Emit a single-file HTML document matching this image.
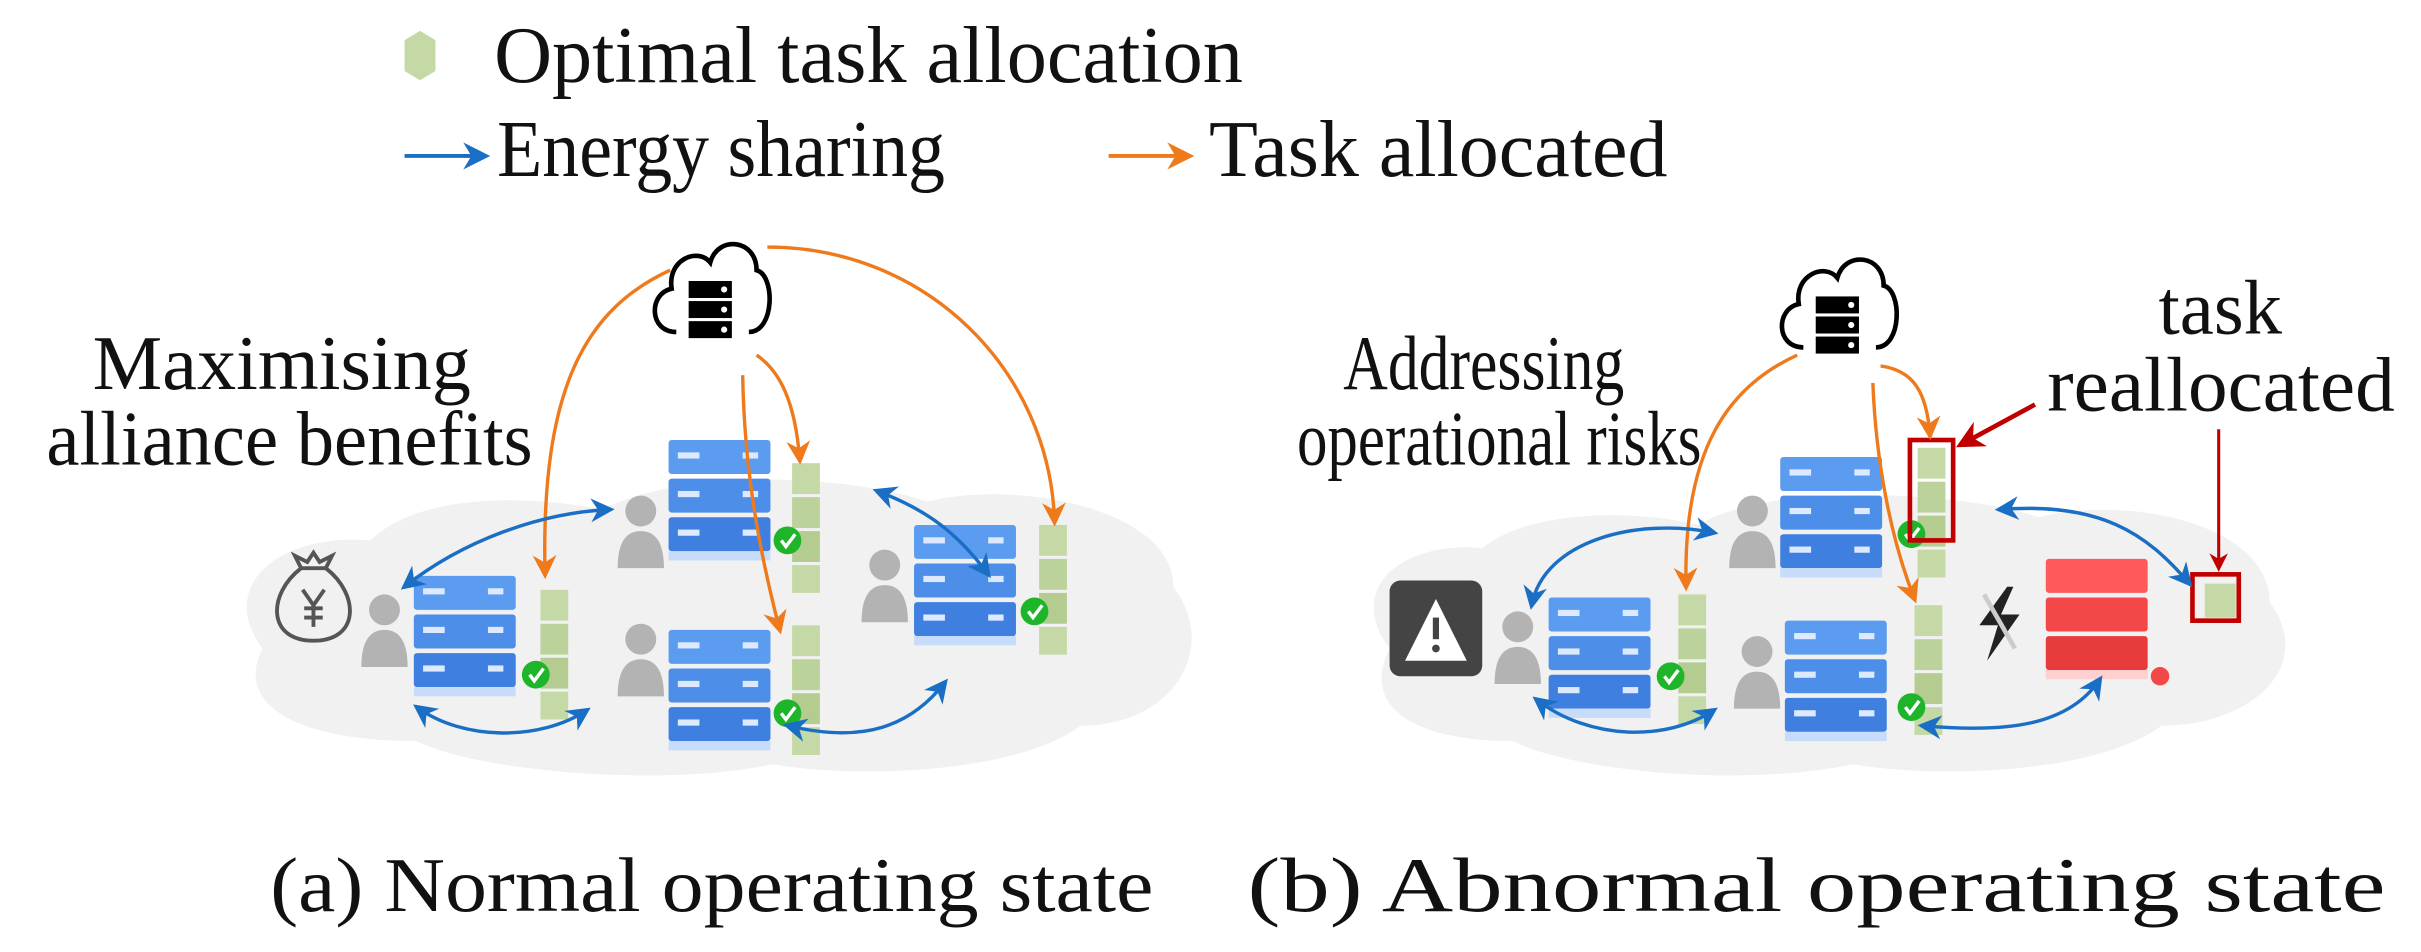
<!DOCTYPE html>
<html><head><meta charset="utf-8"><style>
html,body{margin:0;padding:0;background:#fff;}
svg{display:block}
text{font-family:"Liberation Serif",serif;fill:#111;}
</style></head><body>
<svg width="2421" height="952" viewBox="0 0 1568 616.6" xmlns="http://www.w3.org/2000/svg">
<defs>
<marker id="bl" viewBox="0 0 10 10" refX="8" refY="5" markerWidth="7" markerHeight="7" orient="auto-start-reverse"><path d="M0,0 L10,5 L0,10 L3,5z" fill="#1a6fc4"/></marker>
<marker id="or" viewBox="0 0 10 10" refX="8" refY="5" markerWidth="7" markerHeight="7" orient="auto"><path d="M0,0 L10,5 L0,10 L3,5z" fill="#ee7a1c"/></marker>
<marker id="rd" viewBox="0 0 10 10" refX="8" refY="5" markerWidth="6" markerHeight="6" orient="auto"><path d="M0,0 L10,5 L0,10 L3,5z" fill="#c00000"/></marker>
<g id="srv">
 <rect x="0" y="0" width="66" height="22" rx="2" fill="#5b9cf0"/>
 <rect x="0" y="25" width="66" height="22" rx="2" fill="#4d8ee8"/>
 <rect x="0" y="50" width="66" height="22" rx="2" fill="#3f7fe0"/>
 <rect x="0" y="72" width="66" height="6" fill="#c7dcfa"/>
 <rect x="6" y="8" width="14" height="4" fill="#dce9ff"/><rect x="48" y="8" width="10" height="4" fill="#dce9ff"/>
 <rect x="6" y="33" width="14" height="4" fill="#dce9ff"/><rect x="48" y="33" width="10" height="4" fill="#dce9ff"/>
 <rect x="6" y="58" width="14" height="4" fill="#dce9ff"/><rect x="48" y="58" width="10" height="4" fill="#dce9ff"/>
</g>
<g id="rsrv">
 <rect x="0" y="0" width="66" height="22" rx="2" fill="#ff5a5a"/>
 <rect x="0" y="25" width="66" height="22" rx="2" fill="#f44848"/>
 <rect x="0" y="50" width="66" height="22" rx="2" fill="#e83c3c"/>
 <rect x="0" y="72" width="66" height="6" fill="#ffd0d0"/>
</g>
<g id="stk">
 <rect x="0" y="0" width="18" height="20" fill="#c5d9a6"/><rect x="0" y="22" width="18" height="20" fill="#bcd29b"/><rect x="0" y="44" width="18" height="20" fill="#b4cc90"/><rect x="0" y="66" width="18" height="18" fill="#c5d9a6"/>
</g>
<g id="per"><circle cx="15" cy="11" r="10" fill="#b3b3b3"/><path d="M0,48 Q0,24 15,24 Q30,24 30,48z" fill="#b3b3b3"/></g>
<g id="chk"><circle cx="0" cy="0" r="9" fill="#1fb52b"/><path d="M-4,0 L-1,4 L5,-4" stroke="#fff" stroke-width="2.2" fill="none"/></g>
<g id="cld">
 <path d="M-22,25 C-40,25 -40,0 -25,-3 C-28,-22 -8,-30 0,-20 C5,-38 30,-35 30,-15 C42,-12 42,25 25,25" fill="none" stroke="#000" stroke-width="3"/>
 <rect x="-14" y="-8" width="28" height="11" fill="#000"/><rect x="-14" y="5" width="28" height="11" fill="#000"/><rect x="-14" y="18" width="28" height="11" fill="#000"/>
 <circle cx="9" cy="-2.5" r="2" fill="#fff"/><circle cx="9" cy="10.5" r="2" fill="#fff"/><circle cx="9" cy="23.5" r="2" fill="#fff"/>
</g>
</defs>

<!-- Legend -->
<path d="M262,26 L272,20 L282,26 L282,46 L272,52 L262,46z" fill="#c5d9a6"/>
<text x="320" y="53" font-size="52" textLength="485" lengthAdjust="spacingAndGlyphs">Optimal task allocation</text>
<line x1="262" y1="101" x2="314" y2="101" stroke="#1a6fc4" stroke-width="2.5" marker-end="url(#bl)"/>
<text x="322" y="114" font-size="52" textLength="290" lengthAdjust="spacingAndGlyphs">Energy sharing</text>
<line x1="718" y1="101" x2="770" y2="101" stroke="#ee7a1c" stroke-width="2.5" marker-end="url(#or)"/>
<text x="783" y="114" font-size="52" textLength="297" lengthAdjust="spacingAndGlyphs">Task allocated</text>

<!-- Panel a -->
<path d="M170,420 C140,380 180,345 240,350 C270,320 340,320 390,330 C450,300 560,310 600,325 C660,310 760,330 760,380 C790,420 760,470 700,470 C660,500 560,505 500,495 C430,510 310,500 270,480 C200,480 150,460 170,420z" fill="#f1f1f1"/>
<text x="60" y="252" font-size="50" textLength="245" lengthAdjust="spacingAndGlyphs">Maximising</text>
<text x="30" y="301" font-size="50" textLength="315" lengthAdjust="spacingAndGlyphs">alliance benefits</text>
<use href="#cld" x="460" y="190"/>
<g transform="translate(203,390)" fill="none" stroke="#555" stroke-width="2.5">
<path d="M-8,-22 L-12,-30 L-4,-26 L0,-32 L4,-26 L12,-30 L8,-22"/>
<path d="M-8,-22 C-30,-5 -30,25 0,25 C30,25 30,-5 8,-22z"/>
<path d="M-7,-8 L0,2 L7,-8 M0,2 L0,16 M-6,4 L6,4 M-6,10 L6,10"/>
</g>
<use href="#per" x="234" y="384"/><use href="#srv" x="268" y="373"/><use href="#stk" x="350" y="382"/><use href="#chk" x="347" y="437"/>
<use href="#per" x="400" y="320"/><use href="#srv" x="433" y="285"/><use href="#stk" x="513" y="300"/><use href="#chk" x="510" y="350"/>
<use href="#per" x="400" y="403"/><use href="#srv" x="433" y="408"/><use href="#stk" x="513" y="405"/><use href="#chk" x="510" y="462"/>
<use href="#per" x="558" y="355"/><use href="#srv" x="592" y="340"/><use href="#stk" x="673" y="340"/><use href="#chk" x="670" y="396"/>
<g fill="none" stroke="#ee7a1c" stroke-width="2.2">
<path d="M434,175 C380,200 350,250 353,372" marker-end="url(#or)"/>
<path d="M481,243 C482,300 490,350 505,408" marker-end="url(#or)"/>
<path d="M490,230 C505,240 515,260 518,298" marker-end="url(#or)"/>
<path d="M497,160 C600,160 680,240 683,338" marker-end="url(#or)"/>
</g>
<g fill="none" stroke="#1a6fc4" stroke-width="2.2">
<path d="M262,380 C300,350 350,332 395,330" marker-start="url(#bl)" marker-end="url(#bl)"/>
<path d="M568,318 C600,330 620,345 640,372" marker-start="url(#bl)" marker-end="url(#bl)"/>
<path d="M270,458 C300,480 350,480 380,460" marker-start="url(#bl)" marker-end="url(#bl)"/>
<path d="M510,470 C560,482 590,470 612,442" marker-start="url(#bl)" marker-end="url(#bl)"/>
</g>
<text x="175" y="590" font-size="50" textLength="572" lengthAdjust="spacingAndGlyphs">(a) Normal operating state</text>

<!-- Panel b -->
<path d="M900,420 C870,380 910,350 960,355 C990,330 1060,330 1100,340 C1150,310 1280,320 1320,335 C1380,320 1470,340 1470,390 C1500,430 1460,470 1400,470 C1360,500 1260,505 1200,495 C1130,510 1020,500 980,480 C920,480 880,460 900,420z" fill="#f1f1f1"/>
<text x="870" y="252" font-size="50" textLength="182" lengthAdjust="spacingAndGlyphs">Addressing</text>
<text x="840" y="301" font-size="50" textLength="262" lengthAdjust="spacingAndGlyphs">operational risks</text>
<text x="1398" y="216" font-size="50" textLength="80" lengthAdjust="spacingAndGlyphs">task</text>
<text x="1326" y="266" font-size="50" textLength="225" lengthAdjust="spacingAndGlyphs">reallocated</text>
<use href="#cld" x="1190" y="200"/>
<rect x="900" y="376" width="60" height="62" rx="7" fill="#444"/>
<path d="M930,388 L950,428 L910,428z" fill="#fff"/>
<rect x="928" y="400" width="4" height="14" fill="#444"/><circle cx="930" cy="420" r="2.5" fill="#444"/>
<use href="#per" x="968" y="395"/><use href="#srv" x="1003" y="387"/><use href="#stk" x="1087" y="385"/><use href="#chk" x="1082" y="438"/>
<use href="#per" x="1120" y="320"/><use href="#srv" x="1153" y="296"/><use href="#stk" x="1242" y="290"/><use href="#chk" x="1238" y="346"/>
<use href="#per" x="1123" y="411"/><use href="#srv" x="1156" y="402"/><use href="#stk" x="1240" y="392"/><use href="#chk" x="1238" y="458"/>
<use href="#rsrv" x="1325" y="362"/><circle cx="1399" cy="438" r="6" fill="#f44848"/>
<path d="M1300,380 L1282,405 L1294,405 L1287,428 L1308,398 L1296,398 L1304,380z" fill="#222"/>
<line x1="1285" y1="385" x2="1305" y2="420" stroke="#ccc" stroke-width="3"/>
<rect x="1428" y="378" width="20" height="22" fill="#c5d9a6"/>
<rect x="1237" y="285" width="28" height="65" fill="none" stroke="#c00000" stroke-width="3"/>
<rect x="1420" y="372" width="30" height="30" fill="none" stroke="#c00000" stroke-width="3"/>
<line x1="1318" y1="262" x2="1270" y2="288" stroke="#c00000" stroke-width="3" marker-end="url(#rd)"/>
<line x1="1437" y1="278" x2="1437" y2="368" stroke="#c00000" stroke-width="2" marker-end="url(#rd)"/>
<g fill="none" stroke="#ee7a1c" stroke-width="2.2">
<path d="M1164,230 C1120,250 1090,290 1092,380" marker-end="url(#or)"/>
<path d="M1213,248 C1215,300 1225,350 1240,388" marker-end="url(#or)"/>
<path d="M1218,237 C1240,240 1248,255 1250,282" marker-end="url(#or)"/>
</g>
<g fill="none" stroke="#1a6fc4" stroke-width="2.2">
<path d="M992,392 C1000,350 1060,335 1110,345" marker-start="url(#bl)" marker-end="url(#bl)"/>
<path d="M1295,330 C1360,325 1390,345 1418,378" marker-start="url(#bl)" marker-end="url(#bl)"/>
<path d="M995,453 C1030,480 1080,480 1110,460" marker-start="url(#bl)" marker-end="url(#bl)"/>
<path d="M1245,470 C1300,475 1340,470 1360,440" marker-start="url(#bl)" marker-end="url(#bl)"/>
</g>
<text x="808" y="590" font-size="50" textLength="737" lengthAdjust="spacingAndGlyphs">(b) Abnormal operating state</text>
</svg>
</body></html>
